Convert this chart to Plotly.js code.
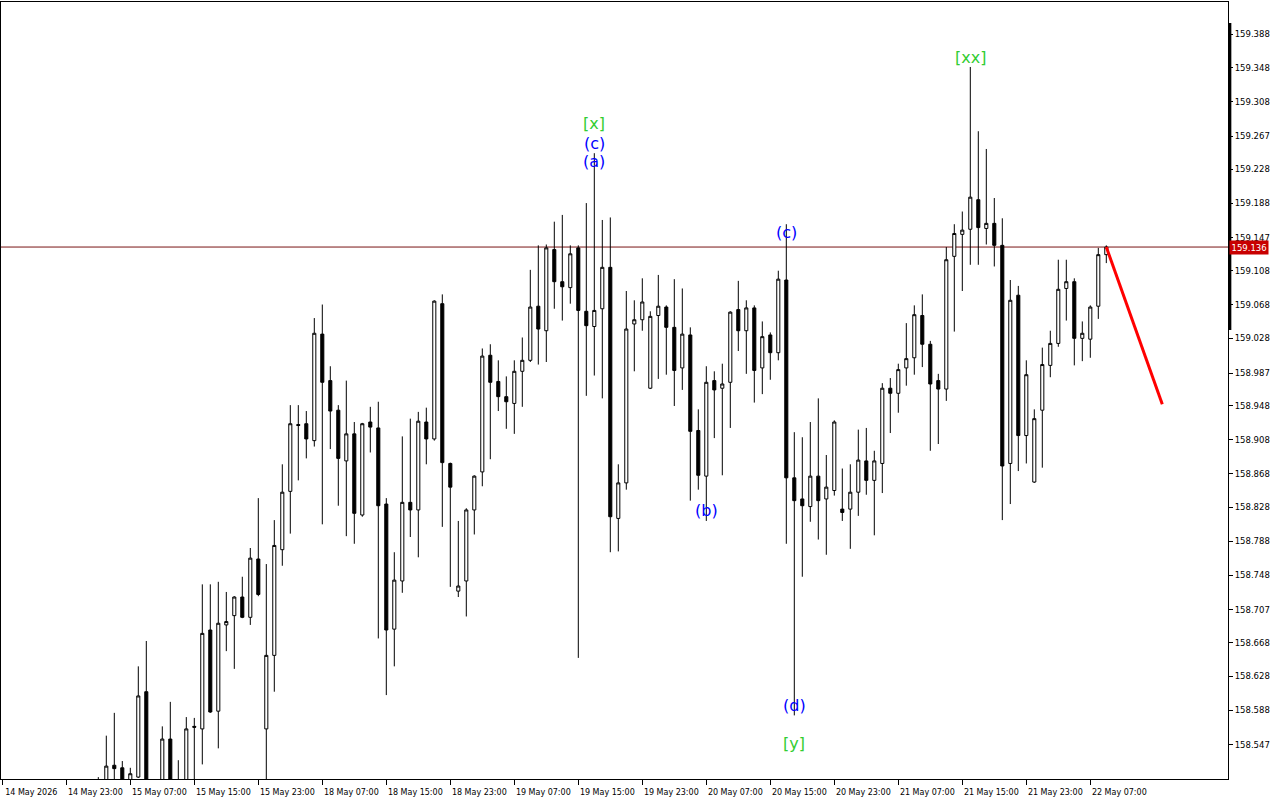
<!DOCTYPE html>
<html><head><meta charset="utf-8">
<script src="https://cdn.plot.ly/plotly-3.0.1.min.js"></script>
<style>html,body{margin:0;padding:0;background:#fff;} #chart{width:1280px;height:800px;}</style>
</head><body><div id="chart"></div>
<script>
// hourly trading slot of the first drawn candle (slot 0 = 14 May 15:00)
const FIRST_SLOT = 12;

const open = [
158.495,158.495,158.523,158.520,158.498,158.509,158.610,158.500,158.500,158.554,
158.497,158.503,158.569,158.566,158.683,158.587,158.689,158.700,158.722,158.698,
158.767,158.566,158.653,158.778,158.847,158.926,158.927,158.907,159.033,158.978,
158.943,158.883,158.915,158.819,158.929,158.922,158.832,158.684,158.741,158.834,
158.825,158.929,158.909,159.069,158.880,158.729,158.741,158.825,158.870,159.008,
158.977,158.959,158.951,158.989,159.002,159.066,159.037,159.133,159.095,159.088,
159.135,159.060,159.042,159.063,159.112,158.815,158.857,159.045,159.050,158.969,
159.055,159.065,159.041,158.993,159.032,158.919,158.865,158.978,158.969,158.976,
159.062,159.037,159.064,158.993,159.032,159.011,159.097,158.863,158.838,158.829,
158.865,158.838,158.848,158.826,158.826,158.846,158.883,158.860,158.880,158.969,
158.963,158.993,159.005,159.055,159.021,158.978,158.968,159.125,159.151,159.157,
159.192,159.158,159.164,159.138,158.880,159.079,158.913,158.858,158.943,158.996,
159.022,159.087,159.095,159.028,159.027,159.066,159.127];
const high = [
158.509,158.558,158.585,158.528,158.520,158.640,158.670,158.505,158.569,158.598,
158.529,158.580,158.579,158.737,158.737,158.740,158.728,158.723,158.746,158.780,
158.839,158.761,158.813,158.879,158.949,158.949,158.942,159.052,159.068,158.995,
158.949,158.978,158.929,158.928,158.947,158.953,158.839,158.775,158.912,158.933,
158.941,158.946,159.073,159.080,158.881,158.812,158.827,158.866,159.016,159.021,
159.002,158.983,159.002,159.029,159.109,159.138,159.139,159.166,159.174,159.138,
159.138,159.188,159.247,159.168,159.171,158.879,159.084,159.073,159.099,159.060,
159.103,159.067,159.098,159.087,159.041,158.944,158.995,158.989,158.998,159.060,
159.096,159.073,159.067,159.048,159.035,159.108,159.163,158.917,158.911,158.929,
158.957,158.890,158.931,158.874,158.879,158.920,158.922,158.895,158.975,158.981,
158.998,159.046,159.067,159.080,159.025,158.986,159.136,159.163,159.178,159.349,
159.273,159.252,159.194,159.170,159.097,159.090,159.002,158.944,159.017,159.037,
159.121,159.121,159.099,159.048,159.067,159.135,159.138];
const low = [
158.470,158.480,158.495,158.490,158.490,158.508,158.495,158.480,158.495,158.498,
158.490,158.500,158.500,158.524,158.585,158.543,158.658,158.637,158.697,158.689,
158.723,158.500,158.610,158.759,158.797,158.860,158.886,158.900,158.808,158.897,
158.830,158.794,158.785,158.817,158.893,158.673,158.606,158.640,158.727,158.793,
158.769,158.879,158.907,158.805,158.734,158.722,158.699,158.796,158.853,158.885,
158.942,158.921,158.915,158.947,159.000,158.997,159.000,159.063,159.049,159.069,
158.650,158.960,158.984,158.957,158.775,158.776,158.849,158.989,159.037,158.968,
158.980,158.985,158.948,158.967,158.836,158.849,158.812,158.910,158.866,158.922,
159.013,158.986,158.952,158.962,158.979,159.002,158.785,158.582,158.746,158.811,
158.790,158.772,158.842,158.812,158.779,158.818,158.843,158.795,158.845,158.916,
158.940,158.972,158.985,158.994,158.895,158.903,158.954,159.036,159.084,159.115,
159.115,159.139,159.113,158.813,158.832,158.871,158.880,158.857,158.875,158.982,
159.018,159.049,158.996,159.001,159.005,159.051,159.117];
const close = [
158.490,158.522,158.519,158.500,158.513,158.605,158.500,158.495,158.554,158.503,
158.503,158.566,158.568,158.679,158.586,158.691,158.693,158.722,158.698,158.768,
158.725,158.653,158.783,158.846,158.927,158.925,158.909,159.034,158.976,158.942,
158.886,158.915,158.821,158.927,158.923,158.830,158.683,158.742,158.834,158.825,
158.930,158.909,159.072,158.881,158.852,158.735,158.825,158.865,159.007,158.976,
158.959,158.953,158.989,159.002,159.065,159.039,159.135,159.095,159.089,159.128,
159.061,159.043,159.061,159.112,158.817,158.857,159.039,159.050,159.071,159.054,
159.066,159.041,158.990,159.033,158.918,158.866,158.976,158.967,158.974,159.059,
159.037,159.064,158.990,159.030,159.011,159.098,158.863,158.836,158.830,158.865,
158.836,158.852,158.929,158.822,158.846,158.884,158.860,158.883,158.969,158.963,
158.991,159.004,159.056,159.021,158.974,158.968,159.121,159.152,159.156,159.195,
159.159,159.164,159.138,158.877,159.073,158.913,158.985,158.933,158.997,159.022,
159.086,159.095,159.028,159.034,159.065,159.127,159.136];

const tickSlots = [0,8,16,24,32,40,48,56,64,72,80,88,96,104,112,120,128,136];
const tickLabels = ['14 May 2026','14 May 23:00','15 May 07:00','15 May 15:00','15 May 23:00',
  '18 May 07:00','18 May 15:00','18 May 23:00','19 May 07:00','19 May 15:00','19 May 23:00',
  '20 May 07:00','20 May 15:00','20 May 23:00','21 May 07:00','21 May 15:00','21 May 23:00','22 May 07:00'];
const priceTicks = [159.388,159.348,159.308,159.267,159.228,159.188,159.147,159.108,159.068,159.028,
  158.987,158.948,158.908,158.868,158.828,158.788,158.748,158.707,158.668,158.628,158.588,158.547];

const waveText  = ['[x]','(c)','(a)','(c)','(b)','(d)','[y]','[xx]'];
const waveSlot  = [74,74,74,98,88,99,99,121];
const wavePrice = [159.282,159.259,159.237,159.153,158.824,158.594,158.549,159.360];
const waveDegree = ['major','minor','minor','minor','minor','minor','major','major'];

const forecastSlot = [138,145];
const forecastPrice = [159.136,158.950];

const slots = open.map((_, k) => FIRST_SLOT + k);
const lastClose = close[close.length - 1];

const FONT = '"DejaVu Sans", Tahoma, sans-serif';
const degreeColor = {major:'rgb(50,205,50)', minor:'rgb(0,0,255)'};

const traces = [
  {type:'candlestick', x:slots, open:open, high:high, low:low, close:close,
   increasing:{line:{color:'#000',width:1}, fillcolor:'#ffffff'},
   decreasing:{line:{color:'#000',width:1}, fillcolor:'#000000'},
   whiskerwidth:0, hoverinfo:'skip', showlegend:false},
  {type:'scatter', mode:'lines', x:forecastSlot, y:forecastPrice,
   line:{color:'#ff0000', width:3}, hoverinfo:'skip', showlegend:false}
];

const annotations = waveText.map((t, k) => ({
  x: waveSlot[k], y: wavePrice[k], xref:'x', yref:'y', text:t, showarrow:false,
  font:{family:FONT, size:16, color:degreeColor[waveDegree[k]]}, xanchor:'center', yanchor:'middle'
}));
annotations.push({
  x:1, xref:'paper', xanchor:'left', xshift:1, y:lastClose, yref:'y', yanchor:'middle',
  text:lastClose.toFixed(3), showarrow:false, bgcolor:'#c80000', borderpad:1.5,
  font:{family:FONT, size:8.5, color:'#ffffff'}
});

const layout = {
  width:1280, height:800,
  margin:{l:1, r:52, t:2, b:21, pad:0},
  paper_bgcolor:'#ffffff', plot_bgcolor:'#ffffff',
  showlegend:false, boxgap:0.45, hovermode:false,
  font:{family:FONT, size:8, color:'#000'},
  xaxis:{type:'linear', range:[-0.1625, 153.2125], tickmode:'array', tickvals:tickSlots, ticktext:tickLabels,
    ticks:'outside', ticklen:5, tickwidth:1, tickcolor:'#000', ticklabelshift:29,
    tickfont:{family:FONT, size:8, color:'#000'},
    showgrid:false, zeroline:false, showline:true, mirror:true, linecolor:'#000', linewidth:1,
    rangeslider:{visible:false}, fixedrange:true},
  yaxis:{side:'right', range:[158.50675, 159.42585], tickmode:'array', tickvals:priceTicks,
    ticktext:priceTicks.map(v => v.toFixed(3)),
    ticks:'outside', ticklen:4, tickwidth:1, tickcolor:'#000',
    tickfont:{family:FONT, size:8.5, color:'#000'},
    showgrid:false, zeroline:false, showline:true, mirror:true, linecolor:'#000', linewidth:1, fixedrange:true},
  shapes:[
    {type:'line', xref:'paper', yref:'y', x0:0, x1:1, y0:lastClose, y1:lastClose,
     line:{color:'rgb(120,20,20)', width:1}, layer:'below'},
    {type:'line', xref:'paper', yref:'y', x0:1.0015, x1:1.0015, y0:159.401, y1:159.038,
     line:{color:'#000', width:3}}
  ],
  annotations:annotations
};

Plotly.newPlot('chart', traces, layout, {displayModeBar:false, staticPlot:true});
</script>
</body></html>
